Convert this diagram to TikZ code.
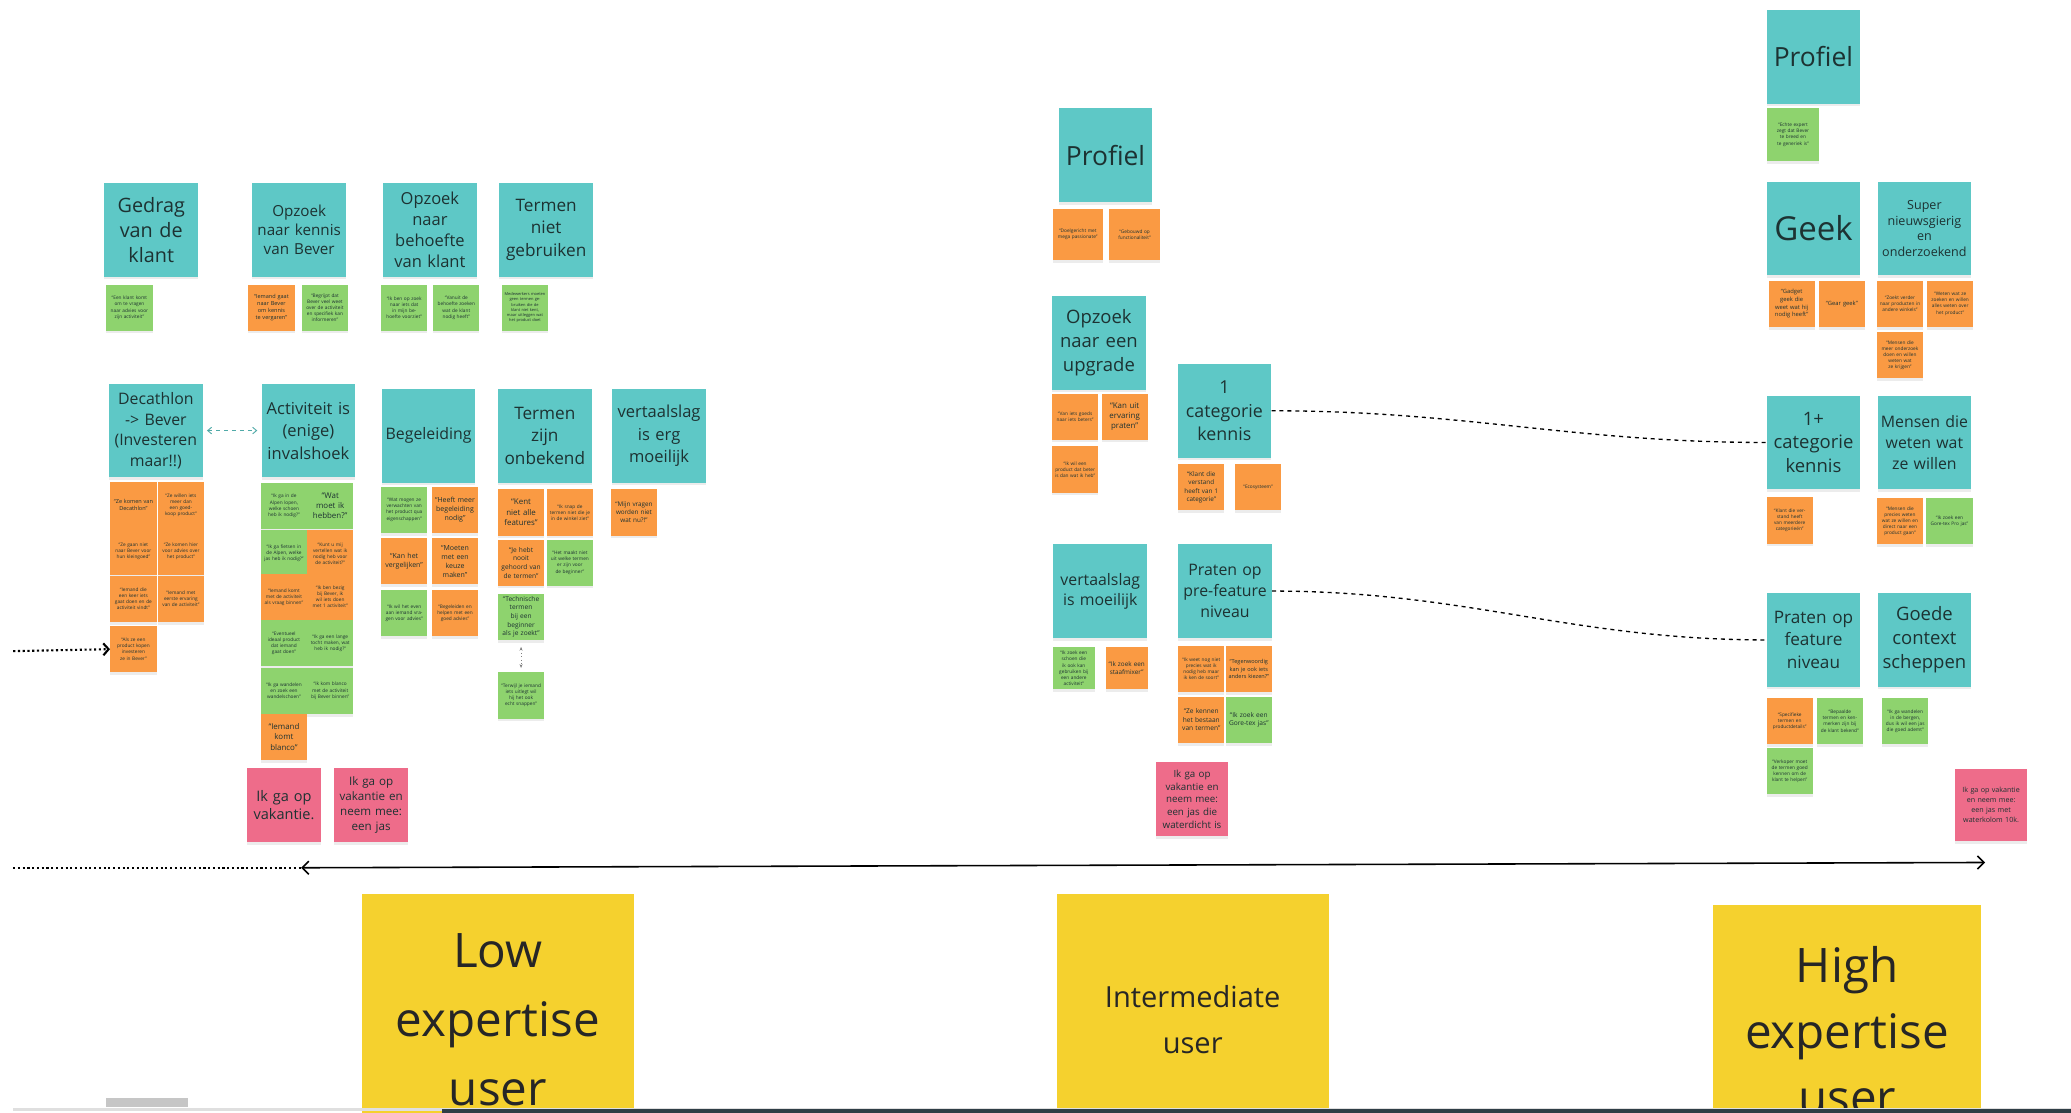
\documentclass[tikz,border=0pt]{standalone}
\usepackage{fontspec}
\setmainfont{Open Sans}
\usetikzlibrary{positioning, shapes, shadows, arrows.meta}

\definecolor{headteal}{HTML}{5EC8C6}
\definecolor{noteorange}{HTML}{FA9A43}
\definecolor{notegreen}{HTML}{8ED36E}
\definecolor{notepink}{HTML}{EE6C8A}
\definecolor{noteyellow}{HTML}{F5D12E}
\definecolor{inkdark}{HTML}{1D3232}
\definecolor{barslate}{HTML}{2F3E46}

\newcommand{\fsz}[2]{\fontsize{#1}{#2}\selectfont}

\begin{document}
\begin{tikzpicture}[x=1pt, y=-1pt,
    sticky/.style={inner sep=1pt, align=center, text=inkdark,
        drop shadow={shadow xshift=0pt, shadow yshift=-2pt, opacity=0.15}},
    head/.style={sticky, fill=headteal, minimum width=71pt, minimum height=71pt, text width=66pt},
    note/.style={sticky, minimum width=35pt, minimum height=35pt, text width=31pt, font=\fsz{3.6}{4.6}},
    onote/.style={note, fill=noteorange},
    gnote/.style={note, fill=notegreen},
    pnote/.style={sticky, fill=notepink, minimum width=56pt, minimum height=56pt, text width=52pt},
    ynote/.style={sticky, fill=noteyellow, minimum width=206pt, minimum height=190pt, text width=200pt, text=black!85},
    link/.style={dashed, line width=1pt, black}
]
            \useasboundingbox (0,0) rectangle (1568,842);
            \fill[white] (0,0) rectangle (1568,842);
            \clip (0,0) rectangle (1568,842);

            % Low expertise, row 1
            \node[head, font=\fsz{15}{19}] (gedrag) at (114.5,174) {Gedrag\\van de\\klant};
            \node[gnote] (gedragA) at (98,233) {``Een klant komt om te vragen naar advies voor zijn activiteit''};
            \node[head, font=\fsz{11.5}{14.5}] (kennis) at (226.5,174) {Opzoek\\naar kennis\\van Bever};
            \node[onote, font=\fsz{4.2}{5.4}] (kennisA) at (205.5,233) {``Iemand gaat naar Bever om kennis te vergaren''};
            \node[gnote] (kennisB) at (246,233) {``Begrijpt dat Bever veel weet over de activiteit en specifiek kan informeren''};
            \node[head, font=\fsz{12.5}{16}] (behoefte) at (325.5,174) {Opzoek\\naar\\behoefte\\van klant};
            \node[gnote] (behoefteA) at (306,233) {``Ik ben op zoek naar iets dat in mijn behoefte voorziet''};
            \node[gnote] (behoefteB) at (345.5,233) {``Vanuit de behoefte zoeken wat de klant nodig heeft''};
            \node[head, font=\fsz{13}{17}] (termenniet) at (413.5,174) {Termen\\niet\\gebruiken};
            \node[gnote, font=\fsz{3}{4}] (termennietA) at (397.5,233) {Medewerkers moeten geen termen gebruiken die de klant niet kent, maar uitleggen wat het product doet};

            % Low expertise, row 2
            \node[head, font=\fsz{12}{15.5}] (decathlon) at (118,326) {Decathlon\\-> Bever\\(Investeren\\maar!!)};
            \node[onote, font=\fsz{4.2}{5.4}] (dec1) at (101,382.5) {``Ze komen van Decathlon''};
            \node[onote] (dec2) at (137,382.5) {``Ze willen iets meer dan een goedkoop product''};
            \node[onote] (dec3) at (101,417.5) {``Ze gaan niet naar Bever voor hun kleingoed''};
            \node[onote] (dec4) at (137,417.5) {``Ze komen hier voor advies over het product''};
            \node[onote] (dec5) at (101,453.5) {``Iemand die een keer iets gaat doen en de activiteit vindt''};
            \node[onote] (dec6) at (137,453.5) {``Iemand met eerste ervaring van de activiteit''};
            \node[onote] (dec7) at (101,491.5) {``Als ze een product kopen investeren ze in Bever''};

            \node[head, font=\fsz{12.5}{17}] (activiteit) at (233.5,326) {Activiteit is\\(enige)\\invalshoek};
            \node[gnote] (act1) at (215,383) {``Ik ga in de Alpen lopen, welke schoen heb ik nodig?''};
            \node[gnote, font=\fsz{6}{7.5}] (act2) at (250,383) {``Wat moet ik hebben?''};
            \node[gnote] (act3) at (215,419) {``Ik ga fietsen in de Alpen, welke jas heb ik nodig?''};
            \node[onote] (act4) at (250,419) {``Kunt u mij vertellen wat ik nodig heb voor de activiteit?''};
            \node[onote] (act5) at (215,452) {``Iemand komt met de activiteit als vraag binnen''};
            \node[onote] (act6) at (250,452) {``Ik ben bezig bij Bever, ik wil iets doen met 1 activiteit''};
            \node[gnote] (act7) at (215,487) {``Eventueel ideaal product dat iemand gaat doen''};
            \node[gnote] (act8) at (250,487) {``Ik ga een lange tocht maken, wat heb ik nodig?''};
            \node[gnote] (act9) at (215,523) {``Ik ga wandelen en zoek een wandelschoen''};
            \node[gnote] (act10) at (250,523) {``Ik kom blanco met de activiteit bij Bever binnen''};
            \node[onote, font=\fsz{6}{8}] (act11) at (215,558) {``Iemand komt blanco''};

            \node[head, font=\fsz{12}{15}] (begeleiding) at (324.5,330) {Begeleiding};
            \node[gnote] (beg1) at (306,386) {``Wat mogen ze verwachten van het product qua eigenschappen''};
            \node[onote, font=\fsz{5.3}{6.8}] (beg2) at (344.5,386) {``Heeft meer begeleiding nodig''};
            \node[onote, font=\fsz{5.3}{6.8}] (beg3) at (306,425) {``Kan het vergelijken''};
            \node[onote, font=\fsz{5.3}{6.8}] (beg4) at (344.5,425) {``Moeten met een keuze maken''};
            \node[gnote] (beg5) at (306,464) {``Ik wil het even aan iemand vragen voor advies''};
            \node[onote] (beg6) at (344.5,464) {``Begeleiden en helpen met een goed advies''};

            \node[head, font=\fsz{13}{17}] (termenzijn) at (412.5,330) {Termen\\zijn\\onbekend};
            \node[onote, font=\fsz{6}{7.8}] (tz1) at (394.5,388) {``Kent niet alle features''};
            \node[onote] (tz2) at (431.5,388) {``Ik snap de termen niet die je in de winkel ziet''};
            \node[onote, font=\fsz{5}{6.5}] (tz3) at (394.5,426) {``Je hebt nooit gehoord van de termen''};
            \node[gnote] (tz4) at (431.5,426) {``Het maakt niet uit welke termen er zijn voor de beginner''};
            \node[gnote, font=\fsz{5}{6.5}] (tz5) at (394.5,467) {``Technische termen bij een beginner als je zoekt''};
            \node[gnote] (tz6) at (394.5,526.5) {``Terwijl je iemand iets uitlegt wil hij het ook echt snappen''};

            \node[head, font=\fsz{12.5}{17}] (vertaalslag) at (499,330) {vertaalslag\\is erg\\moeilijk};
            \node[onote, font=\fsz{4.8}{6.2}] (vert1) at (480,388) {``Mijn vragen worden niet wat nu?!''};

            \node[pnote, font=\fsz{11}{14}] (vak1) at (215,609.5) {Ik ga op\\vakantie.};
            \node[pnote, font=\fsz{8.8}{11.5}] (vak2) at (281,609.5) {Ik ga op\\vakantie en\\neem mee:\\een jas};

            % Intermediate
            \node[head, font=\fsz{20}{24}] (profielM) at (837,117.5) {Profiel};
            \node[onote, minimum width=38pt, minimum height=39pt] (profM1) at (816,177.5) {``Doelgericht met mega passionate''};
            \node[onote, minimum width=38pt, minimum height=39pt] (profM2) at (859,177.5) {``Gebouwd op functionaliteit''};
            \node[head, font=\fsz{14}{18}] (upgrade) at (832,259.5) {Opzoek\\naar een\\upgrade};
            \node[onote] (upg1) at (814,315.5) {``Van iets goeds naar iets beters''};
            \node[onote, font=\fsz{6}{7.6}] (upg2) at (851.5,315.5) {``Kan uit ervaring praten''};
            \node[onote] (upg3) at (814,355.5) {``Ik wil een product dat beter is dan wat ik heb''};
            \node[head, font=\fsz{13.5}{17.5}] (cat1) at (927,311) {1\\categorie\\kennis};
            \node[onote, font=\fsz{4.8}{6.2}] (cat1A) at (909.5,369) {``Klant die verstand heeft van 1 categorie''};
            \node[onote] (cat1B) at (952.5,369) {``Ecosysteem''};
            \node[head, font=\fsz{12}{15}] (vertaalM) at (833,447.5) {vertaalslag\\is moeilijk};
            \node[gnote, minimum width=32pt, minimum height=32pt, text width=29pt] (vertM1) at (813,506) {``Ik zoek een schoen die ik ook kan gebruiken bij een andere activiteit''};
            \node[onote, minimum width=32pt, minimum height=32pt, text width=29pt, font=\fsz{4.8}{6.2}] (vertM2) at (853,506) {``Ik zoek een staafmixer''};
            \node[head, font=\fsz{12}{16}] (prefeature) at (927.5,447.5) {Praten op\\pre-feature\\niveau};
            \node[onote] (pre1) at (909.5,506.5) {``Ik weet nog niet precies wat ik nodig heb maar ik ken de soort''};
            \node[onote, font=\fsz{4.2}{5.4}] (pre2) at (945.5,506.5) {``Tegenwoordig kan je ook iets anders kiezen?''};
            \node[onote, font=\fsz{5}{6.5}] (pre3) at (909.5,545) {``Ze kennen het bestaan van termen''};
            \node[gnote, font=\fsz{5}{6.5}] (pre4) at (945.5,545) {``Ik zoek een Gore-tex jas''};
            \node[pnote, minimum width=55pt, font=\fsz{7.4}{9.6}] (vakM) at (902.5,605) {Ik ga op\\vakantie en\\neem mee:\\een jas die\\waterdicht is};

            % High expertise
            \node[head, font=\fsz{20}{24}] (profielR) at (1373,43) {Profiel};
            \node[gnote, minimum width=39pt, minimum height=40pt] (profR1) at (1357.5,102) {``Echte expert zegt dat Bever te breed en te generiek is''};
            \node[head, font=\fsz{25}{30}] (geek) at (1373,173) {Geek};
            \node[onote, font=\fsz{4.4}{5.8}] (geek1) at (1356.5,230) {``Gadget geek die weet wat hij nodig heeft''};
            \node[onote, font=\fsz{4.4}{5.8}] (geek2) at (1394.5,230) {``Gear geek''};
            \node[head, font=\fsz{9.5}{12}] (superN) at (1457,173) {Super\\nieuwsgierig\\en\\onderzoekend};
            \node[onote] (sup1) at (1438.5,230) {``Zoekt verder naar producten in andere winkels''};
            \node[onote] (sup2) at (1476.5,230) {``Weten wat ze zoeken en willen alles weten over het product''};
            \node[onote] (sup3) at (1438.5,269) {``Mensen die meer onderzoek doen en willen weten wat ze krijgen''};
            \node[head, font=\fsz{14}{17.5}] (catplus) at (1373,335) {1+\\categorie\\kennis};
            \node[onote] (catp1) at (1355,394) {``Klant die verstand heeft van meerdere categorie\"en''};
            \node[head, font=\fsz{12}{16}] (mensen) at (1457,335) {Mensen die\\weten wat\\ze willen};
            \node[onote] (mens1) at (1438.5,394.5) {``Mensen die precies weten wat ze willen en direct naar een product gaan''};
            \node[gnote] (mens2) at (1476,394.5) {``Ik zoek een Gore-tex Pro jas''};
            \node[head, font=\fsz{13}{17}] (feature) at (1373,484.5) {Praten op\\feature\\niveau};
            \node[onote] (feat1) at (1355,546) {``Specifieke termen en productdetails''};
            \node[gnote] (feat2) at (1393,546) {``Bepaalde termen en kenmerken zijn bij de klant bekend''};
            \node[gnote] (feat3) at (1355,584) {``Verkoper moet de termen goed kennen om de klant te helpen''};
            \node[head, font=\fsz{14}{18}] (context) at (1457,484.5) {Goede\\context\\scheppen};
            \node[gnote] (ctx1) at (1442.5,546) {``Ik ga wandelen in de bergen, dus ik wil een jas die goed ademt''};
            \node[pnote, minimum width=55pt, minimum height=55pt, font=\fsz{5.4}{7.6}] (vakR) at (1507.5,609.5) {Ik ga op vakantie\\en neem mee:\\een jas met\\waterkolom 10k.};

            % Expertise levels
            \node[ynote, font=\fsz{36}{52}] (low) at (377,772) {Low\\expertise\\user};
            \node[ynote, font=\fsz{22}{35}] (intermediate) at (903,772) {Intermediate\\user};
            \node[ynote, minimum width=203pt, font=\fsz{36}{50}] (high) at (1398.5,780) {High\\expertise\\user};

            % Draw connectors
            \coordinate (feedstart) at (10,493);
            \coordinate (dotstart) at (10,657);
            \coordinate (axisleft) at (228,657);
            \coordinate (axisright) at (1503,653);

            \draw[headteal!85!black, dashed, line width=0.7pt, {Straight Barb[length=3pt,width=5pt]}-{Straight Barb[length=3pt,width=5pt]}, shorten <=3pt, shorten >=3pt] (decathlon.east) -- (activiteit.west);
            \draw[gray, dotted, line width=0.7pt, {Stealth[length=3pt]}-{Stealth[length=3pt]}, shorten <=5pt, shorten >=3pt] (tz5.south) -- (tz6.north);
            \draw[link] (cat1.east) to[out=0, in=180] (catplus.west);
            \draw[link] (prefeature.east) to[out=0, in=180] (feature.west);
            \draw[dotted, line width=1.6pt, -{Straight Barb[length=4pt,width=9pt]}] (feedstart) -- (dec7.west);
            \draw[dotted, line width=1.6pt] (dotstart) -- (axisleft);
            \draw[line width=1.2pt, {Straight Barb[length=5pt,width=10pt]}-{Straight Barb[length=5pt,width=10pt]}] (axisleft) -- (axisright);

            % Screen edge
            \fill[gray!45] (80,831) rectangle (142,838);
            \draw[gray!25, line width=2pt] (10,840) -- (1568,840);
            \draw[barslate, line width=3pt] (335,841) -- (1568,841);

        \end{tikzpicture}
\end{document}
